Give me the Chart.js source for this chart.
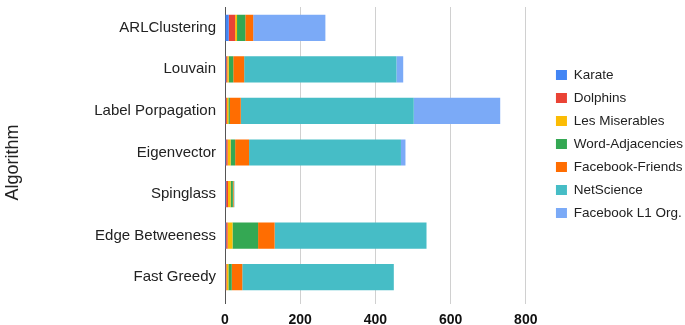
<!DOCTYPE html>
<html>
<head>
<meta charset="utf-8">
<script src="https://cdn.jsdelivr.net/npm/chart.js@4"></script>
<style>
  html, body { margin: 0; padding: 0; background: #fff; }
  #wrap { width: 685px; height: 325px; position: relative; }
</style>
</head>
<body>
<div id="wrap"><canvas id="algoChart"></canvas></div>
<script>
const algorithms = ['ARLClustering', 'Louvain', 'Label Porpagation', 'Eigenvector', 'Spinglass', 'Edge Betweeness', 'Fast Greedy'];
const xTicks = [0, 200, 400, 600, 800];

const karate = [10, 3, 2, 3, 3, 3, 2];
const dolphins = [17, 3, 3, 4, 5, 4, 2];
const lesMiserables = [5, 4, 4, 8, 7, 13, 5];
const wordAdjacencies = [22, 12, 4, 12, 6, 68, 9];
const facebookFriends = [21, 29, 29, 37, 2, 44, 28];
const netScience = [0, 405, 460, 404, 2, 404, 403];
const facebookL1 = [192, 18, 230, 12, 0, 0, 0];

document.addEventListener('DOMContentLoaded', function() {
    const ctx = document.getElementById('algoChart').getContext('2d');
    const font = 'Arial, "Liberation Sans"';

    const series = [
        { label: 'Karate', data: karate, color: '#4285F4' },
        { label: 'Dolphins', data: dolphins, color: '#EA4335' },
        { label: 'Les Miserables', data: lesMiserables, color: '#FBBC04' },
        { label: 'Word-Adjacencies', data: wordAdjacencies, color: '#34A853' },
        { label: 'Facebook-Friends', data: facebookFriends, color: '#FF6D01' },
        { label: 'NetScience', data: netScience, color: '#46BDC6' },
        { label: 'Facebook L1 Org.', data: facebookL1, color: '#7BAAF7' }
    ];

    new Chart(ctx, {
        type: 'bar',
        data: {
            labels: algorithms,
            datasets: series.map(s => ({
                label: s.label,
                data: s.data,
                backgroundColor: s.color,
                borderWidth: 0,
                categoryPercentage: 0.63,
                barPercentage: 1
            }))
        },
        options: {
            indexAxis: 'y',
            responsive: true,
            maintainAspectRatio: false,
            animation: false,
            layout: {
                padding: { top: 7, right: -8, bottom: 0, left: 0 }
            },
            plugins: {
                legend: {
                    position: 'right',
                    align: 'start',
                    // blank title used only as top spacing for the legend column
                    title: {
                        display: true,
                        text: ' ',
                        padding: { top: 0, bottom: 41.75 },
                        font: { family: font, size: 10, lineHeight: 1 }
                    },
                    labels: {
                        boxWidth: 11,
                        boxHeight: 10,
                        padding: 9.5,
                        color: '#222',
                        font: { family: font, size: 13.5 }
                    }
                },
                tooltip: { enabled: false }
            },
            scales: {
                x: {
                    stacked: true,
                    min: 0,
                    max: 855,
                    afterBuildTicks: function(scale) {
                        scale.ticks = xTicks.map(v => ({ value: v }));
                    },
                    afterFit: function(scale) {
                        scale.height = 27;
                    },
                    grid: {
                        color: c => c.tick && c.tick.value === 0 ? '#555' : '#d0d0d0',
                        tickLength: 6
                    },
                    border: { display: false },
                    ticks: {
                        color: '#111',
                        padding: 8,
                        font: { family: font, size: 14, weight: 'bold' }
                    }
                },
                y: {
                    stacked: true,
                    afterFit: function(scale) {
                        scale.width = 225;
                        scale.paddingTop = 0;
                        scale.paddingBottom = 0;
                    },
                    grid: { display: false, drawTicks: false },
                    border: { display: true, color: '#555' },
                    ticks: {
                        color: '#222',
                        padding: 9,
                        font: { family: font, size: 15 }
                    },
                    title: {
                        display: true,
                        text: 'Algorithm    ',
                        color: '#222',
                        padding: { top: 2, bottom: 0 },
                        font: { family: font, size: 18 }
                    }
                }
            }
        }
    });
});
</script>
</body>
</html>
